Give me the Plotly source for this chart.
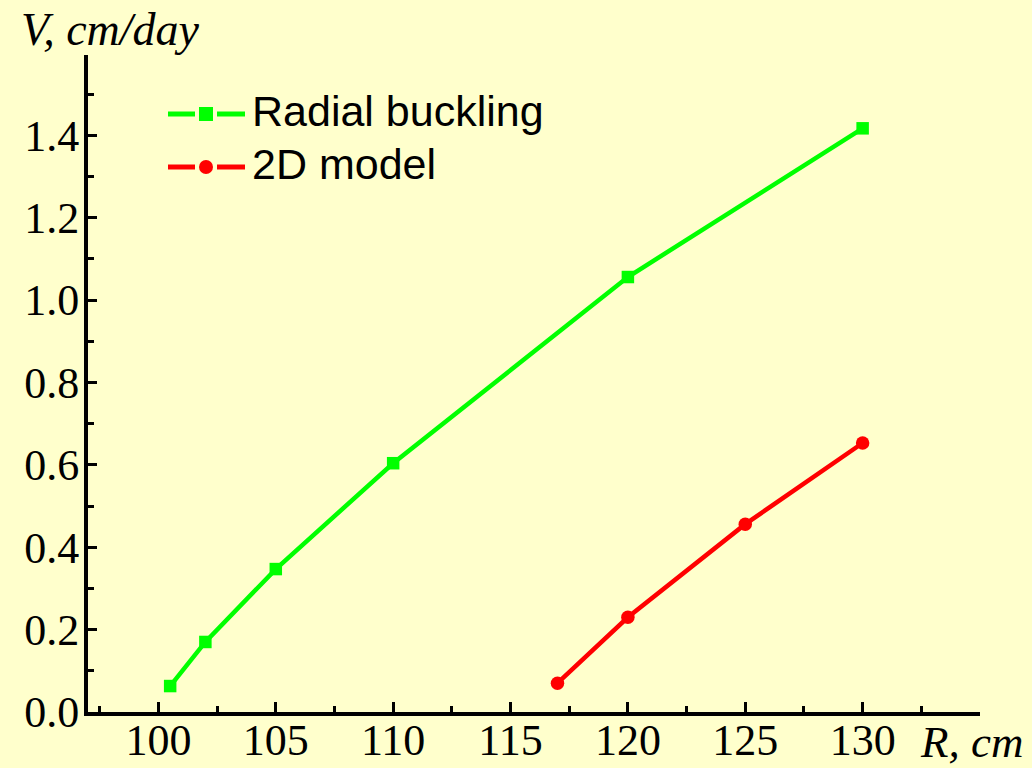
import plotly.graph_objects as go

# Data
r_buckling = [100.5, 102, 105, 110, 120, 130]
v_buckling = [0.063, 0.17, 0.347, 0.604, 1.056, 1.417]
r_2d = [117, 120, 125, 130]
v_2d = [0.07, 0.23, 0.456, 0.653]
series_names = ["Radial buckling", "2D model"]
x_ticks = [100, 105, 110, 115, 120, 125, 130]
y_ticks = [0.0, 0.2, 0.4, 0.6, 0.8, 1.0, 1.2, 1.4]

GREEN = "#00FF00"
RED = "#FF0000"
BG = "#FFFFCC"

W, H = 1032, 768
L, R, T, B = 88, 52, 55, 56
PW, PH = W - L - R, H - T - B

def px(xp):
    return (xp - L) / PW

def py(yp):
    return (H - B - yp) / PH

fig = go.Figure()
fig.add_trace(go.Scatter(x=r_buckling, y=v_buckling, mode="lines+markers",
                         name=series_names[0],
                         line=dict(color=GREEN, width=4.5),
                         marker=dict(symbol="square", size=12.5, color=GREEN),
                         showlegend=False))
fig.add_trace(go.Scatter(x=r_2d, y=v_2d, mode="lines+markers",
                         name=series_names[1],
                         line=dict(color=RED, width=4.5),
                         marker=dict(symbol="circle", size=13.5, color=RED),
                         showlegend=False))

serif = "Liberation Serif, Times New Roman, serif"
sans = "Liberation Sans, Arial, sans-serif"

axis_common = dict(showline=True, linecolor="black", linewidth=4, ticks="inside",
                   tickcolor="black", tickwidth=3, showgrid=False, zeroline=False,
                   automargin=False,
                   tickfont=dict(family=serif, size=44, color="black"))

fig.update_xaxes(range=[97, 135], tickmode="array", tickvals=x_ticks,
                 ticktext=[str(v) for v in x_ticks], ticklen=10,
                 minor=dict(ticks="inside", ticklen=6, dtick=2.5, tick0=100,
                            tickcolor="black", tickwidth=3),
                 ticklabelstandoff=-14, **axis_common)
fig.update_yaxes(range=[0, 1.595], tickmode="array", tickvals=y_ticks,
                 ticktext=[f"{v:.1f}" for v in y_ticks], ticklen=9,
                 minor=dict(ticks="inside", ticklen=6, dtick=0.1, tick0=0,
                            tickcolor="black", tickwidth=3),
                 ticklabelstandoff=-4, **axis_common)

# Manual legend (line segments with gap around marker)
legend_rows = [
    (114, GREEN, "square", series_names[0]),
    (167, RED, "circle", series_names[1]),
]
for yp, col, sym, label in legend_rows:
    for x0, x1 in [(168, 195), (217, 245)]:
        fig.add_shape(type="line", xref="paper", yref="paper",
                      x0=px(x0), x1=px(x1), y0=py(yp), y1=py(yp),
                      line=dict(color=col, width=5))
    shape_type = "rect" if sym == "square" else "circle"
    s = 7
    fig.add_shape(type=shape_type, xref="paper", yref="paper",
                  x0=px(206 - s), x1=px(206 + s), y0=py(yp - s), y1=py(yp + s),
                  fillcolor=col, line=dict(color=col, width=0))
    fig.add_annotation(text=label, xref="paper", yref="paper",
                       x=px(250), y=py(yp - 3), xanchor="left", yanchor="middle",
                       showarrow=False, font=dict(family=sans, size=43, color="black"))

# Axis titles
fig.add_annotation(text="<i>V, cm/day</i>", xref="paper", yref="paper",
                   x=px(19), y=py(30), xanchor="left", yanchor="middle",
                   showarrow=False, font=dict(family=serif, size=46, color="black"))
fig.add_annotation(text="<i>R, cm</i>", xref="paper", yref="paper",
                   x=px(1025), y=py(742), xanchor="right", yanchor="middle",
                   showarrow=False, font=dict(family=serif, size=45, color="black"))

fig.update_layout(width=W, height=H, margin=dict(l=L, r=R, t=T, b=B, autoexpand=False),
                  paper_bgcolor=BG, plot_bgcolor=BG, showlegend=False)

fig.write_html("out.html")
